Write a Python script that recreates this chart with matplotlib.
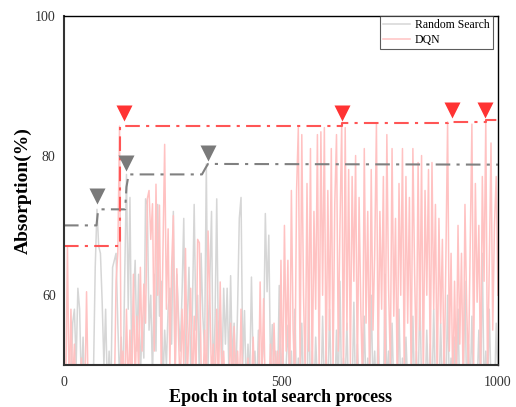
import matplotlib
matplotlib.use('Agg')
import matplotlib.pyplot as plt
import numpy as np

plt.rcParams['font.family'] = ['Liberation Serif', 'DejaVu Serif']

# sampled every 4 epochs (0..1000)
epochs = np.arange(0, 1001, 4)

random_search = [
    53, 46, 45, 52, 47, 56, 58, 50, 61, 58, 47, 54, 45, 50, 46, 47, 45, 49, 64, 72.3, 67, 66, 59, 50, 58,
    46, 52, 45, 64, 65, 66, 56, 48, 54, 46, 63, 77.3, 58, 74, 50, 59, 65, 52, 63, 48, 56, 51, 73.8, 73, 55,
    60, 48, 63, 52, 73, 57, 62, 47, 55, 50, 58, 61, 53, 72, 49, 63, 57, 52, 60, 71, 50, 56, 64, 49, 58,
    73, 55, 60, 48, 66, 57, 52, 78.8, 50, 62, 72, 47, 56, 73.8, 52, 58, 48, 61, 53, 61, 49, 62.8, 50, 56, 47,
    58, 71, 74, 50, 57.8, 46, 53, 48, 62.6, 50, 52, 46, 55, 47, 50, 53, 71.7, 60.5, 68.6, 49, 55.8, 47, 52, 46, 61.4,
    48, 53, 46, 50, 55.7, 47, 52, 45, 58, 46, 51, 45, 56, 47, 49, 45, 60, 46, 52, 45, 54, 47, 50, 45, 57,
    46, 52, 45, 58, 47, 50, 45, 55, 46, 62, 45, 51, 47, 56, 45, 50, 46, 59, 45, 53, 47, 49, 45, 57, 46,
    51, 45, 60, 47, 52, 45, 55, 46, 50, 45, 63, 47, 52, 45, 56, 46, 49, 45, 58, 46, 51, 45, 54, 47, 50,
    45, 57, 46, 52, 45, 61, 47, 49, 45, 55, 46, 53, 45, 58, 47, 50, 45, 56, 46, 52, 45, 60, 47, 51, 45,
    54, 46, 58, 45, 50, 47, 62, 45, 53, 46, 57, 45, 49, 47, 55, 45, 66, 46, 52, 45, 58, 47, 50, 45, 56, 48,
]

dqn = [
    45, 46, 67, 45, 58, 47, 53, 45, 48, 45, 51, 46, 45, 60.5, 45, 47, 45, 49, 45, 46, 45, 50, 45, 46, 45,
    45, 48, 45, 46, 45, 62, 66, 84.2, 47, 52, 45, 58, 46, 55, 45, 63, 47, 57, 49, 64, 52, 61.6, 56, 73.8, 75,
    68, 73.1, 52, 75.9, 60, 72.9, 49, 66, 81.6, 58, 69.5, 50, 64, 71.4, 47, 63.8, 54, 46, 58, 50, 66.7, 48, 55, 61, 46,
    57, 47, 68, 67.5, 50, 46, 55, 45, 69.2, 60, 48, 53, 45, 58, 46, 61.9, 48, 52, 45, 50, 46, 56, 45, 55.5, 47,
    52, 45, 58, 46, 49, 45, 51, 45, 47, 54, 45, 48, 45, 61.9, 47, 59.5, 45, 50, 46, 53, 45, 56, 47, 52, 46,
    65, 46, 70, 52, 65, 45, 75, 55, 47, 75, 84, 50, 83, 60, 48, 76, 52, 81, 46, 72, 58, 83, 48, 83.4, 60,
    84, 47, 75, 55, 81, 49, 73, 83, 52, 70, 84.6, 47, 84, 55, 78, 50, 77, 62, 80, 48, 74, 58, 47, 81, 56,
    72, 48, 78, 55, 66, 84.5, 49, 72, 58, 77, 47, 83, 61, 50, 81, 57, 71, 46, 76, 60, 81, 49, 77, 56, 74,
    48, 81, 63, 50, 79, 55, 80, 47, 75, 60, 78, 49, 79, 58, 73, 46, 71, 56, 68, 47, 65, 84.8, 52, 66, 46,
    62, 48, 70, 53, 66, 46, 73, 58, 49, 67, 84.5, 50, 76, 59, 70, 47, 77, 62, 85.1, 48, 64, 81.8, 55, 70, 77, 60,
]

# best-so-far curves
rs_best_ep = [0, 75, 78, 82, 141, 144, 149, 318, 326, 332, 1000]
rs_best_val = [70, 70, 71.8, 72.3, 72.3, 75.5, 77.3, 77.3, 78.2, 78.8, 78.7]
dqn_best_ep = [0, 129, 640, 886, 972, 999]
dqn_best_val = [67, 84.2, 84.6, 84.8, 85.1, 85.1]

# improvement markers
rs_mark_ep = [75, 144, 332]
rs_mark_val = [74.2, 79.0, 80.4]
dqn_mark_ep = [138, 640, 895, 970]
dqn_mark_val = [86.1, 86.1, 86.5, 86.5]

fig = plt.figure(figsize=(5.16, 4.07), dpi=100)
ax = fig.add_axes([0.124, 0.103, 0.841, 0.858])

ax.plot(epochs, random_search, color='#d6d6d6', lw=1.1, label='Random Search')
ax.plot(epochs, dqn, color='#ffc2c2', lw=1.1, label='DQN')

ax.plot(rs_best_ep, rs_best_val, color='#808080', lw=1.5, dashes=(7, 3, 1.5, 3))
ax.step(dqn_best_ep, dqn_best_val, where='post', color='#ff5555', lw=1.5, dashes=(7, 3, 1.5, 3))

ax.plot(rs_mark_ep, rs_mark_val, 'v', color='#7a7a7a', ms=11, mec='none')
ax.plot(dqn_mark_ep, dqn_mark_val, 'v', color='#ff3333', ms=11, mec='none')

ax.set_xlim(0, 1000)
ax.set_ylim(50, 100)
ax.set_xticks([0, 500, 1000])
ax.set_yticks([60, 80, 100])
ax.tick_params(axis='y', length=0, labelsize=10, labelcolor='#333333', pad=6)
ax.tick_params(axis='x', length=0, labelsize=10, labelcolor='#333333', pad=8)

ax.set_xlabel('Epoch in total search process', fontsize=13, fontweight='bold', labelpad=0)
ax.set_ylabel('Absorption(%)', fontsize=14, fontweight='bold', labelpad=2)

for s in ['left', 'bottom']:
    ax.spines[s].set_linewidth(1.5)
    ax.spines[s].set_color('#333333')
for s in ['top', 'right']:
    ax.spines[s].set_linewidth(1.0)
    ax.spines[s].set_color('black')

leg = ax.legend(loc='upper right', bbox_to_anchor=(0.989, 1.0), fontsize=8.5, frameon=True,
                fancybox=False, borderaxespad=0, handlelength=2.3, borderpad=0.3,
                labelspacing=0.2, handletextpad=0.4)
leg.get_frame().set_edgecolor('#333333')
leg.get_frame().set_linewidth(0.8)

fig.savefig('out.png', dpi=100)
